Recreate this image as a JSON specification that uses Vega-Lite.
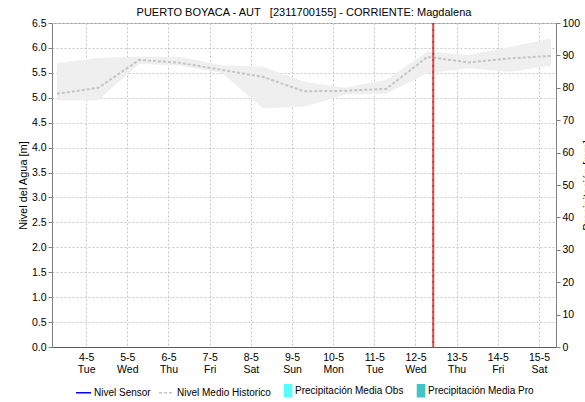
{
  "$schema": "https://vega.github.io/schema/vega-lite/v6.json",
  "width": 504,
  "height": 324,
  "autosize": {"type": "none"},
  "padding": {"left": 52, "top": 23, "right": 29, "bottom": 55},
  "background": "white",
  "title": {
    "text": "PUERTO BOYACA - AUT\u00a0\u00a0\u00a0[2311700155] - CORRIENTE: Magdalena",
    "font": "Liberation Sans", "fontSize": 11, "fontWeight": "normal", "color": "#000000",
    "anchor": "middle", "frame": "group", "offset": 0, "dx": 0
  },
  "config": {
    "view": {"stroke": "#a0a0a0"},
    "axis": {
      "labelFont": "Liberation Sans", "titleFont": "Liberation Sans",
      "labelColor": "#000000", "titleColor": "#000000",
      "labelFontSize": 10.5, "titleFontSize": 11, "titleFontWeight": "normal",
      "gridColor": "#c8c8c8", "gridDash": [2, 2], "gridOpacity": 1,
      "domainColor": "#808080", "tickColor": "#808080"
    }
  },
  "datasets": {
    "hist": [
      {"t": "2021-05-03T07:00:00", "lo": 4.95, "mean": 5.08, "hi": 5.70, "s": "Nivel Medio Historico"},
      {"t": "2021-05-04T07:00:00", "lo": 4.95, "mean": 5.20, "hi": 5.80, "s": "Nivel Medio Historico"},
      {"t": "2021-05-05T07:00:00", "lo": 5.68, "mean": 5.76, "hi": 5.83, "s": "Nivel Medio Historico"},
      {"t": "2021-05-06T07:00:00", "lo": 5.64, "mean": 5.70, "hi": 5.82, "s": "Nivel Medio Historico"},
      {"t": "2021-05-07T07:00:00", "lo": 5.50, "mean": 5.56, "hi": 5.65, "s": "Nivel Medio Historico"},
      {"t": "2021-05-08T07:00:00", "lo": 4.79, "mean": 5.42, "hi": 5.62, "s": "Nivel Medio Historico"},
      {"t": "2021-05-09T07:00:00", "lo": 4.82, "mean": 5.13, "hi": 5.32, "s": "Nivel Medio Historico"},
      {"t": "2021-05-10T07:00:00", "lo": 5.06, "mean": 5.14, "hi": 5.20, "s": "Nivel Medio Historico"},
      {"t": "2021-05-11T07:00:00", "lo": 5.08, "mean": 5.18, "hi": 5.36, "s": "Nivel Medio Historico"},
      {"t": "2021-05-12T07:00:00", "lo": 5.49, "mean": 5.82, "hi": 5.93, "s": "Nivel Medio Historico"},
      {"t": "2021-05-13T07:00:00", "lo": 5.59, "mean": 5.71, "hi": 5.86, "s": "Nivel Medio Historico"},
      {"t": "2021-05-14T07:00:00", "lo": 5.52, "mean": 5.79, "hi": 6.02, "s": "Nivel Medio Historico"},
      {"t": "2021-05-15T07:00:00", "lo": 5.64, "mean": 5.84, "hi": 6.19, "s": "Nivel Medio Historico"}
    ],
    "now": [
      {"t": "2021-05-12T10:20:00"}
    ],
    "precip": []
  },
  "layer": [
    {
      "layer": [
        {
          "data": {"name": "hist"},
          "mark": {"type": "area", "color": "#efefef", "opacity": 1},
          "encoding": {
            "x": {
              "field": "t", "type": "temporal",
              "scale": {"domain": [{"year": 2021, "month": 5, "date": 3, "hours": 7}, {"year": 2021, "month": 5, "date": 15, "hours": 7}]},
              "axis": {
                "title": null, "tickCount": {"interval": "day", "step": 1}, "ticks": false,
                "domainColor": "#000000", "domainDash": [1, 1],
                "labelExpr": "[timeFormat(datum.value, '%-d-%-m'), timeFormat(datum.value, '%a')]",
                "labelPadding": 5, "labelBaseline": "top", "labelLineHeight": 12,
                "labelFlush": false, "labelOverlap": false
              }
            },
            "y": {
              "field": "lo", "type": "quantitative",
              "scale": {"domain": [0, 6.5], "nice": false, "zero": false},
              "axis": {
                "title": "Nivel del Agua [m]",
                "values": [0, 0.5, 1, 1.5, 2, 2.5, 3, 3.5, 4, 4.5, 5, 5.5, 6, 6.5],
                "format": ".1f", "tickSize": 4, "labelPadding": 2, "titlePadding": 3
              }
            },
            "y2": {"field": "hi"}
          }
        },
        {
          "data": {"name": "hist"},
          "mark": {"type": "line", "strokeDash": [3, 2], "strokeWidth": 2},
          "encoding": {
            "x": {"field": "t", "type": "temporal"},
            "y": {
              "field": "mean", "type": "quantitative",
              "scale": {"domain": [0, 6.5], "nice": false, "zero": false},
              "axis": {
                "title": "Nivel del Agua [m]",
                "values": [0, 0.5, 1, 1.5, 2, 2.5, 3, 3.5, 4, 4.5, 5, 5.5, 6, 6.5],
                "format": ".1f", "tickSize": 4, "labelPadding": 2, "titlePadding": 3
              }
            },
            "color": {
              "field": "s", "type": "nominal",
              "scale": {
                "domain": ["Nivel Sensor", "Nivel Medio Historico", "Precipitación Media Obs", "Precipitación Media Pro"],
                "range": ["#0000ff", "#c4c4c4", "#55ffff", "#40c4c4"]
              },
              "legend": {
                "orient": "none", "legendX": 23, "legendY": 359, "direction": "horizontal",
                "title": null, "labelFont": "Liberation Sans", "labelFontSize": 10, "labelColor": "#000000",
                "symbolSize": 225, "symbolStrokeWidth": 1.5, "labelOffset": 2, "columnPadding": 5,
                "encode": {
                  "symbols": {
                    "update": {
                      "shape": {"signal": "(datum.value == 'Nivel Sensor' || datum.value == 'Nivel Medio Historico') ? 'stroke' : 'M0,-0.8H0.94V0.8H0Z'"},
                      "strokeDash": {"signal": "datum.value == 'Nivel Medio Historico' ? [3, 2] : [1, 0]"},
                      "stroke": {"signal": "(datum.value == 'Nivel Sensor' || datum.value == 'Nivel Medio Historico') ? scale('color', datum.value) : 'transparent'"},
                      "fill": {"signal": "(datum.value == 'Nivel Sensor' || datum.value == 'Nivel Medio Historico') ? 'transparent' : scale('color', datum.value)"},
                      "opacity": {"value": 1}
                    }
                  }
                }
              }
            }
          }
        }
      ]
    },
    {
      "data": {"name": "precip"},
      "mark": {"type": "bar"},
      "encoding": {
        "x": {"field": "t", "type": "temporal"},
        "y": {
          "field": "p", "type": "quantitative",
          "scale": {"domain": [0, 100], "nice": false},
          "axis": {
            "orient": "right", "grid": false, "title": "Precipitación [mm]",
            "values": [0, 10, 20, 30, 40, 50, 60, 70, 80, 90, 100],
            "tickSize": 4, "labelPadding": 2, "titlePadding": 13, "titleAngle": -90
          }
        }
      }
    },
    {
      "data": {"name": "now"},
      "mark": {"type": "rule", "color": "#e84848", "strokeWidth": 2},
      "encoding": {"x": {"field": "t", "type": "temporal"}}
    },
    {
      "data": {"name": "now"},
      "mark": {"type": "rule", "color": "#8a2a2a", "strokeWidth": 1, "strokeDash": [2, 4]},
      "encoding": {"x": {"field": "t", "type": "temporal"}}
    }
  ],
  "resolve": {"scale": {"y": "independent"}}
}
